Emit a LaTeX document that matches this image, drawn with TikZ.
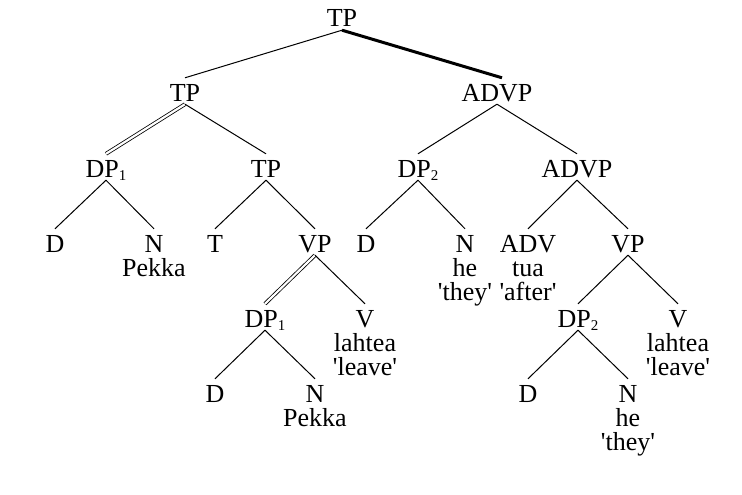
\documentclass[tikz,border=0pt]{standalone}
\usepackage{fontspec}
\setmainfont{Liberation Serif}[Ligatures=TeXOff]
\newcommand{\sq}{\char39\relax}
\newcommand{\subidx}[1]{\raisebox{-3pt}{\fontsize{15}{15}\selectfont #1}}
\tikzset{
  lbl/.style={anchor=base, inner sep=0pt, text height=23pt, text depth=3pt, font=\fontsize{26}{24}\selectfont},
  word/.style={anchor=base, inner sep=0pt, font=\fontsize{26}{24}\selectfont},
  br/.style={line width=1pt},
  thickbr/.style={line width=3pt},
  dbl/.style={line width=0.8pt, double, double distance=2.2pt}
}
\begin{document}
\begin{tikzpicture}[x=1pt,y=-1pt]
\useasboundingbox (0,0) rectangle (742,495);
% level 0
\node[lbl] (tp0) at (342,27) {TP};
% level 1
\node[lbl] (tp1) at (185,101) {TP};
\node[lbl] (advp1) at (497,101) {ADVP};
% level 2
\node[lbl] (dp1a) at (106,177) {DP\subidx{1}};
\node[lbl] (tp2) at (266,177) {TP};
\node[lbl] (dp2a) at (418,177) {DP\subidx{2}};
\node[lbl] (advp2) at (577,177) {ADVP};
% level 3
\node[lbl] (d1) at (55,252) {D};
\node[lbl] (n1) at (154,252) {N};
\node[word] (n1w) at (154,276) {Pekka};
\node[lbl] (t) at (215,252) {T};
\node[lbl] (vp1) at (315,252) {VP};
\node[lbl] (d2) at (366,252) {D};
\node[lbl] (n2) at (465,252) {N};
\node[word] (n2w) at (465,276) {he};
\node[word] (n2g) at (465,300) {\sq they\sq};
\node[lbl] (adv) at (528,252) {ADV};
\node[word] (advw) at (528,276) {tua};
\node[word] (advg) at (528,300) {\sq after\sq};
\node[lbl] (vp2) at (628,252) {VP};
% level 4
\node[lbl] (dp1b) at (265,327) {DP\subidx{1}};
\node[lbl] (v1) at (365,327) {V};
\node[word] (v1w) at (365,351) {lahtea};
\node[word] (v1g) at (365,375) {\sq leave\sq};
\node[lbl] (dp2b) at (578,327) {DP\subidx{2}};
\node[lbl] (v2) at (678,327) {V};
\node[word] (v2w) at (678,351) {lahtea};
\node[word] (v2g) at (678,375) {\sq leave\sq};
% level 5
\node[lbl] (d3) at (215,402) {D};
\node[lbl] (n3) at (315,402) {N};
\node[word] (n3w) at (315,426) {Pekka};
\node[lbl] (d4) at (528,402) {D};
\node[lbl] (n4) at (628,402) {N};
\node[word] (n4w) at (628,426) {he};
\node[word] (n4g) at (628,450) {\sq they\sq};
% branches
\draw[br] (tp0.south) -- (tp1.north);
\draw[thickbr] (tp0.south) -- ([xshift=5pt]advp1.north);
\draw[dbl] (tp1.south) -- (dp1a.north);
\draw[br] (tp1.south) -- (tp2.north);
\draw[br] (advp1.south) -- (dp2a.north);
\draw[br] (advp1.south) -- (advp2.north);
\draw[br] (dp1a.south) -- (d1.north);
\draw[br] (dp1a.south) -- (n1.north);
\draw[br] (tp2.south) -- (t.north);
\draw[br] (tp2.south) -- (vp1.north);
\draw[br] (dp2a.south) -- (d2.north);
\draw[br] (dp2a.south) -- (n2.north);
\draw[br] (advp2.south) -- (adv.north);
\draw[br] (advp2.south) -- (vp2.north);
\draw[dbl] (vp1.south) -- (dp1b.north);
\draw[br] (vp1.south) -- (v1.north);
\draw[br] (vp2.south) -- (dp2b.north);
\draw[br] (vp2.south) -- (v2.north);
\draw[br] (dp1b.south) -- (d3.north);
\draw[br] (dp1b.south) -- (n3.north);
\draw[br] (dp2b.south) -- (d4.north);
\draw[br] (dp2b.south) -- (n4.north);
\end{tikzpicture}
\end{document}
